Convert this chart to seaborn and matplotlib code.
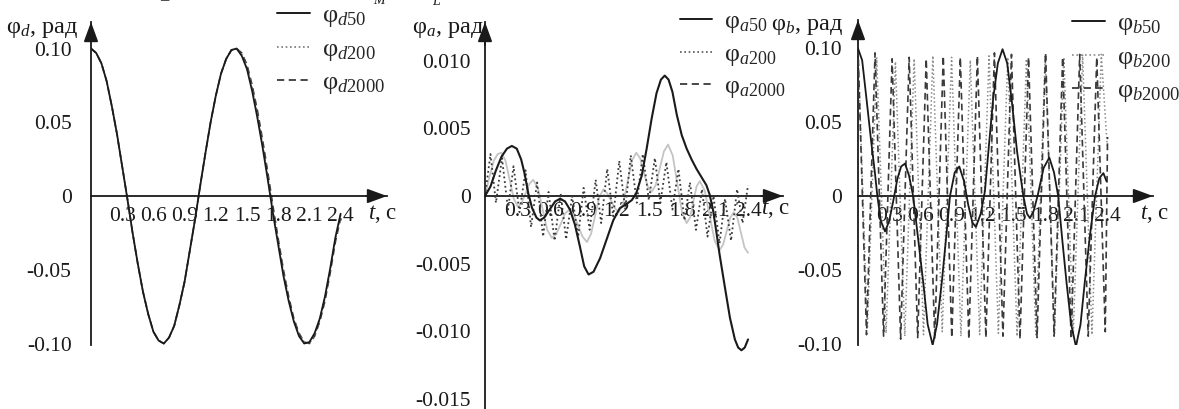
import matplotlib
matplotlib.use("Agg")
import matplotlib.pyplot as plt
import matplotlib.ticker as mticker
from matplotlib.lines import Line2D
import seaborn as sns

# ---------------- data ----------------
t_d = [0.00, 0.05, 0.10, 0.15, 0.20, 0.25, 0.30, 0.35, 0.40, 0.45, 0.50, 0.55,
       0.60, 0.65, 0.70, 0.75, 0.80, 0.85, 0.90, 0.95, 1.00, 1.05, 1.10, 1.15,
       1.20, 1.25, 1.30, 1.35, 1.40, 1.45, 1.50, 1.55, 1.60, 1.65, 1.70, 1.75,
       1.80, 1.85, 1.90, 1.95, 2.00, 2.05, 2.10, 2.15, 2.20, 2.25, 2.30, 2.35, 2.40]
phi_d50 = [0.100, 0.097, 0.090, 0.078, 0.061, 0.042, 0.020, -0.002, -0.025, -0.046,
           -0.065, -0.080, -0.092, -0.098, -0.100, -0.096, -0.088, -0.074, -0.058,
           -0.037, -0.016, 0.007, 0.029, 0.050, 0.068, 0.083, 0.093, 0.099, 0.100,
           0.095, 0.086, 0.071, 0.053, 0.033, 0.011, -0.012, -0.033, -0.054, -0.071,
           -0.085, -0.095, -0.100, -0.099, -0.093, -0.083, -0.068, -0.049, -0.028, -0.012]
phi_d200 = [0.100, 0.097, 0.090, 0.078, 0.061, 0.042, 0.020, -0.002, -0.025, -0.046,
            -0.065, -0.080, -0.092, -0.098, -0.100, -0.096, -0.088, -0.074, -0.058,
            -0.037, -0.016, 0.007, 0.029, 0.050, 0.068, 0.083, 0.093, 0.099, 0.100,
            0.096, 0.087, 0.073, 0.055, 0.035, 0.013, -0.010, -0.031, -0.052, -0.070,
            -0.084, -0.094, -0.099, -0.100, -0.094, -0.084, -0.069, -0.050, -0.029, -0.013]
phi_d2000 = [0.100, 0.097, 0.090, 0.078, 0.061, 0.042, 0.020, -0.002, -0.025, -0.046,
             -0.065, -0.080, -0.092, -0.098, -0.100, -0.096, -0.088, -0.074, -0.058,
             -0.037, -0.016, 0.007, 0.029, 0.050, 0.068, 0.083, 0.093, 0.099, 0.100,
             0.097, 0.089, 0.075, 0.058, 0.038, 0.016, -0.007, -0.029, -0.050, -0.068,
             -0.083, -0.093, -0.099, -0.100, -0.095, -0.085, -0.071, -0.052, -0.031, -0.015]

t_a50 = [0.00, 0.05, 0.10, 0.15, 0.20, 0.245, 0.29, 0.33, 0.36, 0.395, 0.43, 0.47,
         0.50, 0.54, 0.59, 0.64, 0.685, 0.73, 0.775, 0.82, 0.865, 0.905, 0.945, 0.99,
         1.05, 1.11, 1.17, 1.23, 1.29, 1.34, 1.38, 1.43, 1.475, 1.52, 1.565, 1.605,
         1.64, 1.675, 1.71, 1.75, 1.795, 1.84, 1.885, 1.93, 1.975, 2.02, 2.05, 2.08,
         2.11, 2.14, 2.19, 2.235, 2.28, 2.31, 2.34, 2.37, 2.40]
phi_a50 = [0.0, 0.0007, 0.0019, 0.0029, 0.0035, 0.0037, 0.0035, 0.0027, 0.0017, 0.0002,
           -0.0009, -0.0016, -0.0018, -0.0016, -0.0010, -0.0004, -0.0002, -0.0004,
           -0.0010, -0.0021, -0.0037, -0.0052, -0.0058, -0.0056, -0.0046, -0.0032,
           -0.0018, -0.0009, -0.0006, -0.0003, 0.0002, 0.0015, 0.0035, 0.0057, 0.0076,
           0.0086, 0.0089, 0.0086, 0.0077, 0.0060, 0.0045, 0.0035, 0.0027, 0.0020,
           0.0014, 0.0008, 0.0001, -0.0010, -0.0026, -0.0043, -0.0068, -0.0090,
           -0.0106, -0.0112, -0.0114, -0.0112, -0.0106]

t_a200 = [0.00, 0.05, 0.10, 0.155, 0.21, 0.26, 0.315, 0.37, 0.42, 0.475, 0.53, 0.58,
          0.635, 0.69, 0.74, 0.795, 0.85, 0.90, 0.955, 1.01, 1.06, 1.115, 1.17, 1.225,
          1.28, 1.33, 1.385, 1.44, 1.495, 1.55, 1.60, 1.655, 1.71, 1.765, 1.82, 1.87,
          1.925, 1.98, 2.03, 2.085, 2.14, 2.19, 2.245, 2.30, 2.35, 2.40]
phi_a200 = [0.0, 0.0031, -0.0005, 0.0028, -0.0010, 0.0022, -0.0012, 0.0019, -0.0023,
            0.0010, -0.0030, 0.0003, -0.0033, 0.0002, -0.0032, 0.0000, -0.0030, 0.0006,
            -0.0025, 0.0012, -0.0020, 0.0020, -0.0015, 0.0026, -0.0010, 0.0030, -0.0005,
            0.0031, -0.0003, 0.0028, -0.0005, 0.0025, -0.0010, 0.0020, -0.0018, 0.0010,
            -0.0025, 0.0005, -0.0030, 0.0000, -0.0035, -0.0002, -0.0033, 0.0005,
            -0.0020, 0.0008]

t_a2000 = [0.00, 0.04, 0.08, 0.115, 0.15, 0.1875, 0.225, 0.2625, 0.30, 0.335, 0.37,
           0.405, 0.44, 0.4825, 0.525, 0.5675, 0.61, 0.65, 0.69, 0.73, 0.77, 0.81,
           0.85, 0.89, 0.93, 0.9675, 1.005, 1.0425, 1.08, 1.115, 1.15, 1.185, 1.22,
           1.26, 1.30, 1.34, 1.38, 1.415, 1.45, 1.485, 1.52, 1.5575, 1.595, 1.6325,
           1.67, 1.7125, 1.755, 1.7975, 1.84, 1.87, 1.90, 1.93, 1.96, 2.005, 2.05,
           2.095, 2.14, 2.1725, 2.205, 2.2375, 2.27, 2.3025, 2.335, 2.3675, 2.40]
phi_a2000 = [0.0, 0.0014, 0.0026, 0.0031, 0.0032, 0.0026, 0.0012, -0.0002, -0.0008,
             -0.0005, 0.0002, 0.0009, 0.0012, 0.0006, -0.00095, -0.0025, -0.0031,
             -0.0028, -0.0021, -0.0013, -0.0010, -0.0014, -0.0022, -0.0030, -0.0034,
             -0.0028, -0.00145, -0.0001, 0.0005, 0.0002, -0.00035, -0.0009, -0.0012,
             -0.0006, 0.0010, 0.0026, 0.0032, 0.0028, 0.00175, 0.0007, 0.0003, 0.0008,
             0.00205, 0.0033, 0.0038, 0.0030, 0.0009, -0.0012, -0.0020, -0.0016,
             -0.00045, 0.0007, 0.0011, 0.0004, -0.00145, -0.0033, -0.0040, -0.0036,
             -0.0026, -0.0016, -0.0012, -0.0016, -0.0027, -0.0038, -0.0042]

t_b50 = [0.00, 0.04, 0.083, 0.125, 0.163, 0.186, 0.22, 0.26, 0.30, 0.34, 0.38, 0.415,
         0.452, 0.49, 0.53, 0.58, 0.628, 0.67, 0.718, 0.76, 0.805, 0.845, 0.885, 0.93,
         0.974, 1.02, 1.06, 1.10, 1.134, 1.18, 1.22, 1.26, 1.30, 1.345, 1.39, 1.435,
         1.478, 1.53, 1.59, 1.625, 1.654, 1.69, 1.73, 1.785, 1.84, 1.885, 1.925, 1.965,
         2.006, 2.05, 2.096, 2.14, 2.18, 2.23, 2.28, 2.32, 2.36, 2.39]
phi_b50 = [0.100, 0.092, 0.065, 0.038, 0.0155, 0.000, -0.017, -0.024, -0.017, -0.003,
           0.012, 0.020, 0.022, 0.014, 0.000, -0.030, -0.059, -0.087, -0.101, -0.087,
           -0.059, -0.030, 0.000, 0.016, 0.020, 0.010, -0.006, -0.018, -0.021, -0.012,
           0.003, 0.035, 0.066, 0.090, 0.0995, 0.090, 0.065, 0.030, 0.000, -0.012,
           -0.015, -0.010, 0.001, 0.019, 0.026, 0.016, 0.000, -0.030, -0.059, -0.087,
           -0.102, -0.087, -0.059, -0.027, 0.000, 0.012, 0.0155, 0.010]

t_b200 = [0.000, 0.090, 0.180, 0.270, 0.360, 0.450, 0.540, 0.630, 0.720, 0.810, 0.900,
          0.990, 1.080, 1.170, 1.260, 1.350, 1.440, 1.530, 1.620, 1.710, 1.800, 1.890,
          1.980, 2.070, 2.160, 2.250, 2.340, 2.400]
phi_b200 = [0.100, -0.090, 0.094, -0.093, 0.091, -0.095, 0.093, -0.094, 0.095, -0.092,
            0.094, -0.095, 0.092, -0.094, 0.095, -0.093, 0.094, -0.095, 0.093, -0.094,
            0.095, -0.093, 0.094, -0.095, 0.096, -0.094, 0.096, 0.030]

t_b2000 = [0.000, 0.082, 0.164, 0.246, 0.328, 0.410, 0.492, 0.574, 0.656, 0.738, 0.820,
           0.902, 0.984, 1.066, 1.148, 1.230, 1.312, 1.394, 1.476, 1.558, 1.640, 1.722,
           1.804, 1.886, 1.968, 2.050, 2.132, 2.214, 2.296, 2.378, 2.400]
phi_b2000 = [0.100, -0.094, 0.097, -0.095, 0.093, -0.097, 0.094, -0.096, 0.093, -0.097,
             0.095, -0.096, 0.094, -0.097, 0.095, -0.096, 0.097, -0.095, 0.096, -0.097,
             0.094, -0.096, 0.097, -0.095, 0.094, -0.097, 0.096, -0.095, 0.094, -0.092,
             0.040]

t_ticks = [0.3, 0.6, 0.9, 1.2, 1.5, 1.8, 2.1, 2.4]
t_ticklabels = ["0.3", "0.6", "0.9", "1.2", "1.5", "1.8", "2.1", "2.4"]
y_ticks_db = [-0.10, -0.05, 0.0, 0.05, 0.10]
y_ticklabels_db = ["-0.10", "-0.05", "0", "0.05", "0.10"]
y_ticks_a = [-0.015, -0.010, -0.005, 0.0, 0.005, 0.010]
y_ticklabels_a = ["-0.015", "-0.010", "-0.005", "0", "0.005", "0.010"]

leg_d = [r"$\mathrm{φ}_{\mathit{d50}}$", r"$\mathrm{φ}_{\mathit{d200}}$", r"$\mathrm{φ}_{\mathit{d2000}}$"]
leg_a = [r"$\mathrm{φ}_{\mathit{a50}}$", r"$\mathrm{φ}_{\mathit{a200}}$", r"$\mathrm{φ}_{\mathit{a2000}}$"]
leg_b = [r"$\mathrm{φ}_{\mathit{b50}}$", r"$\mathrm{φ}_{\mathit{b200}}$", r"$\mathrm{φ}_{\mathit{b2000}}$"]

# ---------------- style ----------------
sns.set_style("white")
plt.rcParams["font.family"] = ["Liberation Serif", "DejaVu Serif"]
plt.rcParams["mathtext.fontset"] = "custom"
plt.rcParams["mathtext.rm"] = "Liberation Serif"
plt.rcParams["mathtext.it"] = "Liberation Serif:italic"
plt.rcParams["mathtext.bf"] = "Liberation Serif:bold"

W, H = 1179, 409
fig = plt.figure(figsize=(W / 100, H / 100), dpi=100)

FS_TICK = 15.5
FS_LEG = 19
FS_LAB = 17.5
DARK = "#1a1a1a"


def make_axes(x0, x1, ytop, ybot, xlim, ylim):
    ax = fig.add_axes([x0 / W, 1 - ybot / H, (x1 - x0) / W, (ybot - ytop) / H])
    ax.set_xlim(*xlim)
    ax.set_ylim(*ylim)
    ax.patch.set_alpha(0)
    return ax


def finish_axes(ax, yticks, ylabels, yminor, ypad, xpad):
    xmin, xmax = ax.get_xlim()
    ymin, ymax = ax.get_ylim()
    for s in ["top", "right"]:
        ax.spines[s].set_visible(False)
    for s in ["left", "bottom"]:
        ax.spines[s].set_position(("data", 0))
        ax.spines[s].set_color(DARK)
        ax.spines[s].set_linewidth(1.3)
    ax.set_yticks(yticks)
    ax.set_yticklabels(ylabels)
    ax.yaxis.set_minor_locator(mticker.MultipleLocator(yminor))
    ax.set_xticks(t_ticks)
    ax.set_xticklabels(t_ticklabels)
    ax.tick_params(axis="y", which="major", direction="inout", length=5, width=1.0,
                   labelsize=FS_TICK, pad=ypad, colors=DARK)
    ax.tick_params(axis="y", which="minor", direction="inout", length=3, width=0.8, colors=DARK)
    ax.tick_params(axis="x", which="major", direction="in", length=3, width=0.8,
                   labelsize=FS_TICK, pad=xpad, colors=DARK)
    ax.grid(False)
    style = "-|>,head_length=0.6,head_width=0.22"
    ax.annotate("", xy=(xmax, 0), xytext=(xmax - 0.2, 0),
                arrowprops=dict(arrowstyle=style, color=DARK, lw=1.3,
                                shrinkA=0, shrinkB=0, mutation_scale=20),
                annotation_clip=False)
    ax.annotate("", xy=(0, ymax), xytext=(0, ymax - (ymax - ymin) * 0.06),
                arrowprops=dict(arrowstyle=style, color=DARK, lw=1.3,
                                shrinkA=0, shrinkB=0, mutation_scale=20),
                annotation_clip=False)


def legend(ax, labels, styles, x_px, y_px, fs=FS_LEG):
    handles = [Line2D([], [], color=c, lw=lw, linestyle=ls) for (c, lw, ls) in styles]
    ax.legend(handles, labels, loc="upper left", bbox_to_anchor=(x_px / W, 1 - y_px / H),
              bbox_transform=fig.transFigure, frameon=False, borderpad=0,
              borderaxespad=0, handlelength=1.25, handletextpad=0.45,
              labelspacing=0.3, fontsize=fs)


def line(ax, x, y, color, lw, ls, z=2):
    sns.lineplot(x=x, y=y, ax=ax, color=color, linewidth=lw, linestyle=ls,
                 sort=False, estimator=None, legend=False, zorder=z)


DOT = (0, (1, 1.6))
DASH = (0, (4, 2.5))

# ---------------- panel 1 ----------------
ax1 = make_axes(91, 387, 22, 345, (0, 2.846), (-0.101, 0.118))
line(ax1, t_d, phi_d2000, "#3a3a3a", 1.2, DASH, 2)
line(ax1, t_d, phi_d200, "#777777", 1.2, DOT, 3)
line(ax1, t_d, phi_d50, DARK, 1.3, "-", 4)
finish_axes(ax1, y_ticks_db, y_ticklabels_db, 0.01, 11.5, 8)
legend(ax1, leg_d, [(DARK, 1.4, "-"), ("#777777", 1.2, DOT), ("#3a3a3a", 1.3, DASH)], 277, 4)

# ---------------- panel 2 ----------------
ax2 = make_axes(485, 783, 22, 409, (0, 2.719), (-0.01574, 0.01286))
line(ax2, t_a2000, phi_a2000, "#c4c4c4", 1.3, "-", 2)
line(ax2, t_a200, phi_a200, "#3a3a3a", 1.3, DOT, 3)
line(ax2, t_a50, phi_a50, DARK, 1.5, "-", 4)
finish_axes(ax2, y_ticks_a, y_ticklabels_a, 0.001, 7.5, 4)
legend(ax2, leg_a, [(DARK, 1.4, "-"), ("#555555", 1.2, DOT), ("#3a3a3a", 1.3, DASH)], 680, 10, 18.5)

# ---------------- panel 3 ----------------
ax3 = make_axes(858, 1153, 20, 345, (0, 2.837), (-0.101, 0.1193))
line(ax3, t_b200, phi_b200, "#8a8a8a", 1.1, DOT, 2)
line(ax3, t_b2000, phi_b2000, "#3a3a3a", 1.2, DASH, 3)
line(ax3, t_b50, phi_b50, DARK, 1.3, "-", 4)
finish_axes(ax3, y_ticks_db, y_ticklabels_db, 0.01, 9, 8)
legend(ax3, leg_b, [(DARK, 1.4, "-"), ("#8a8a8a", 1.2, DOT), ("#3a3a3a", 1.3, DASH)], 1072, 12)

# ---------------- axis titles ----------------
def ftext(x_px, y_px, s, **kw):
    fig.text(x_px / W, 1 - y_px / H, s, **kw)

ftext(6, 33, r"$\mathrm{φ}_{\mathit{d}}$, рад", fontsize=FS_LAB, va="baseline", ha="left", color=DARK)
ftext(412, 33, r"$\mathrm{φ}_{\mathit{a}}$, рад", fontsize=FS_LAB, va="baseline", ha="left", color=DARK)
ftext(771, 30, r"$\mathrm{φ}_{\mathit{b}}$, рад", fontsize=FS_LAB, va="baseline", ha="left", color=DARK)
ftext(368, 214, r"$\mathit{t}$, с", fontsize=16.5, va="center", ha="left", color=DARK)
ftext(761, 209, r"$\mathit{t}$, с", fontsize=16.5, va="center", ha="left", color=DARK)
ftext(1140, 214, r"$\mathit{t}$, с", fontsize=16.5, va="center", ha="left", color=DARK)

# cut-off remnants of the caption above the figure
ftext(373, 4, "M", fontsize=10, style="italic", va="baseline", ha="left", color=DARK)
ftext(432, 5, "L", fontsize=10, style="italic", va="baseline", ha="left", color=DARK)
ftext(160, -1, "_", fontsize=12, va="baseline", ha="left", color=DARK)

fig.savefig("out.png", dpi=100)
